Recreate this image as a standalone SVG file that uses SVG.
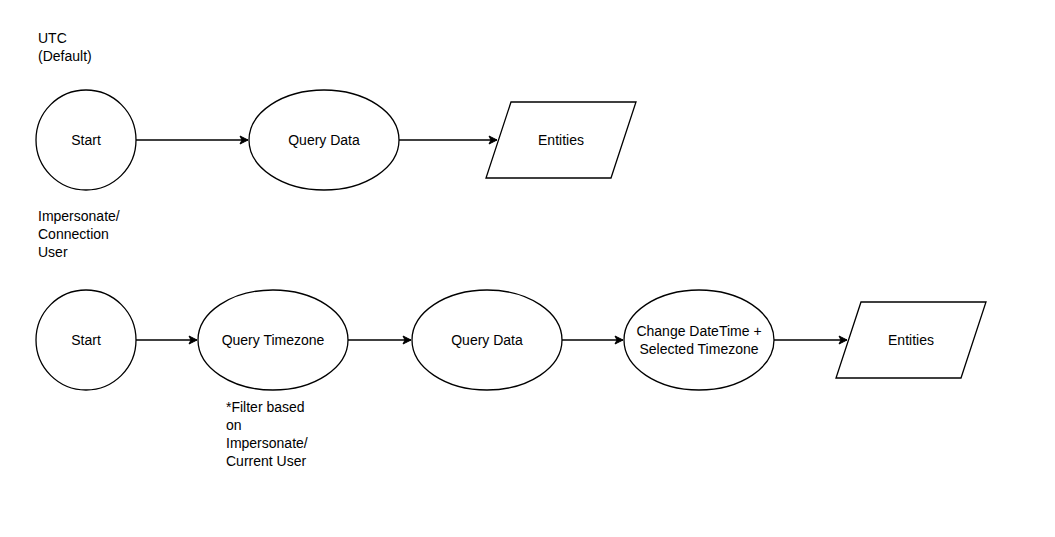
<svg xmlns="http://www.w3.org/2000/svg" width="1055" height="537" viewBox="0 0 1055 537">
<style>
.s{fill:#fff;stroke:#000;stroke-width:1.3}
.t{font-family:"Liberation Sans",Arial,sans-serif;font-size:14px;fill:#000}
.c{text-anchor:middle;dominant-baseline:central}
.e{stroke:#000;stroke-width:1.3;fill:none;marker-end:url(#a)}
</style>
<defs><marker id="a" markerWidth="10" markerHeight="10" refX="9" refY="5" orient="auto" markerUnits="userSpaceOnUse"><path d="M1,1 L9,5 L1,9 L3,5 Z" fill="#000" stroke="#000"/></marker></defs>
<rect width="1055" height="537" fill="#fff"/>
<g id="connectors">
<path class="e" d="M136,140 H248"/>
<path class="e" d="M399,140 H497"/>
<path class="e" d="M136,340 H197"/>
<path class="e" d="M348,340 H411"/>
<path class="e" d="M562,340 H623"/>
<path class="e" d="M774,340 H847"/>
</g>
<g id="label-utc"><text class="t" x="38" y="43">UTC</text><text class="t" x="38" y="61">(Default)</text></g>
<g id="start1"><circle class="s" cx="86" cy="140" r="50"/><text class="t c" x="86" y="140">Start</text></g>
<g id="query1"><ellipse class="s" cx="324" cy="140" rx="75" ry="50"/><text class="t c" x="324" y="140">Query Data</text></g>
<g id="entities1"><polygon class="s" points="511,102 636,102 611,178 486,178"/><text class="t c" x="561" y="140">Entities</text></g>
<g id="label-imp"><text class="t" x="38" y="221">Impersonate/</text><text class="t" x="38" y="239">Connection</text><text class="t" x="38" y="257">User</text></g>
<g id="start2"><circle class="s" cx="86" cy="340" r="50"/><text class="t c" x="86" y="340">Start</text></g>
<g id="qtz"><ellipse class="s" cx="273" cy="340" rx="75" ry="50"/><text class="t c" x="273" y="340">Query Timezone</text></g>
<g id="query2"><ellipse class="s" cx="487" cy="340" rx="75" ry="50"/><text class="t c" x="487" y="340">Query Data</text></g>
<g id="change"><ellipse class="s" cx="699" cy="340" rx="75" ry="50"/><text class="t c" x="699" y="331">Change DateTime +</text><text class="t c" x="699" y="349">Selected Timezone</text></g>
<g id="entities2"><polygon class="s" points="861,302 986,302 961,378 836,378"/><text class="t c" x="911" y="340">Entities</text></g>
<g id="label-filter"><text class="t" x="226" y="412">*Filter based</text><text class="t" x="226" y="430">on</text><text class="t" x="226" y="448">Impersonate/</text><text class="t" x="226" y="466">Current User</text></g>
</svg>
